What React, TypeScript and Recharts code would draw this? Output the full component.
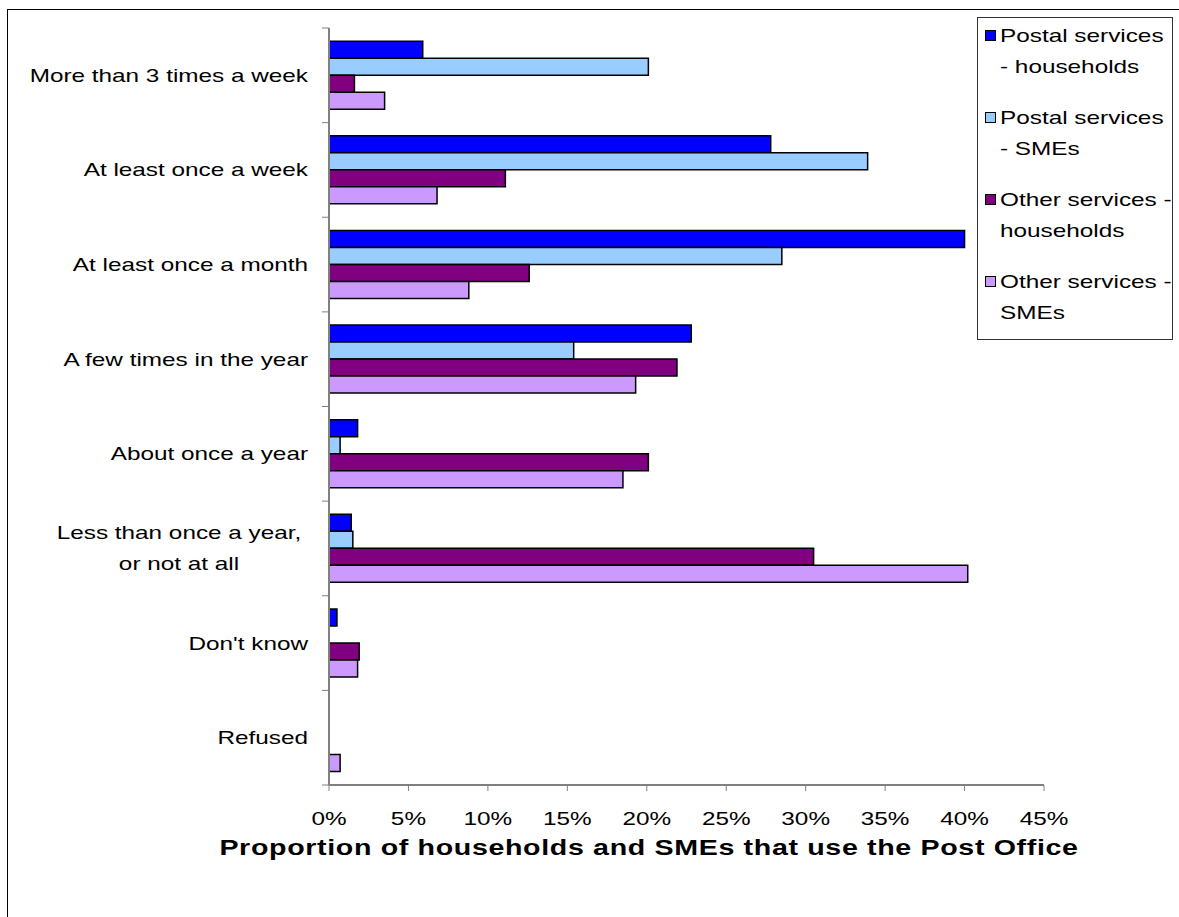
import React from 'react';
import { BarChart, Bar, XAxis, YAxis } from 'recharts';

const categories = [
  'More than 3 times a week',
  'At least once a week',
  'At least once a month',
  'A few times in the year',
  'About once a year',
  'Less than once a year,\nor not at all',
  "Don't know",
  'Refused',
];

const postalHouseholds = [5.9, 27.8, 40.0, 22.8, 1.8, 1.4, 0.5, 0];
const postalSMEs = [20.1, 33.9, 28.5, 15.4, 0.7, 1.5, 0, 0];
const otherHouseholds = [1.6, 11.1, 12.6, 21.9, 20.1, 30.5, 1.9, 0];
const otherSMEs = [3.5, 6.8, 8.8, 19.3, 18.5, 40.2, 1.8, 0.7];

const xTicks = [0, 5, 10, 15, 20, 25, 30, 35, 40, 45];

const seriesKeys = ['postalHouseholds', 'postalSMEs', 'otherHouseholds', 'otherSMEs'];
const seriesColors = ['#0000FF', '#99CCFF', '#800080', '#CC99FF'];
const legendLines = [
  ['Postal services', '- households'],
  ['Postal services', '- SMEs'],
  ['Other services -', 'households'],
  ['Other services -', 'SMEs'],
];
const axisTitle = 'Proportion of households and SMEs that use the Post Office';

const data = categories.map((name, i) => ({
  name,
  postalHouseholds: postalHouseholds[i],
  postalSMEs: postalSMEs[i],
  otherHouseholds: otherHouseholds[i],
  otherSMEs: otherSMEs[i],
}));

const W = 1179;
const H = 917;
const PLOT_LEFT = 329;
const PLOT_RIGHT = 1044;
const PLOT_TOP = 28;
const PLOT_BOTTOM = 785;
const BAND = (PLOT_BOTTOM - PLOT_TOP) / categories.length;
const SX = 1.28; // the source text is stretched horizontally
const FONT = '"Liberation Sans", Arial, sans-serif';

const YTick = (props: any) => {
  const { y, payload, index } = props;
  const lines = String(payload.value).split('\n');
  const half = BAND / 2;
  const multi = lines.length > 1;
  const lx = multi ? 179 : 308;
  return (
    <g>
      <line x1={PLOT_LEFT - 7} x2={PLOT_LEFT} y1={y - half} y2={y - half} stroke="#808080" />
      {index === categories.length - 1 && (
        <line x1={PLOT_LEFT - 7} x2={PLOT_LEFT} y1={y + half} y2={y + half} stroke="#808080" />
      )}
      <g transform={`translate(${lx},${y}) scale(${SX},1)`}>
        {lines.map((ln, i) => (
          <text
            key={i}
            x={0}
            y={(i - (lines.length - 1) / 2) * 31}
            textAnchor={multi ? 'middle' : 'end'}
            dominantBaseline="central"
            fontFamily={FONT}
            fontSize={19}
            fill="#000"
          >
            {ln}
          </text>
        ))}
      </g>
    </g>
  );
};

const XTick = (props: any) => {
  const { x, payload } = props;
  return (
    <g transform={`translate(${x},818) scale(${SX},1)`}>
      <text x={0} y={0} textAnchor="middle" dominantBaseline="central" fontFamily={FONT} fontSize={19} fill="#000">
        {`${payload.value}%`}
      </text>
    </g>
  );
};

export default function App() {
  return (
    <div
      style={{
        position: 'fixed',
        left: 0,
        top: 0,
        width: W,
        height: H,
        overflow: 'hidden',
        background: '#fff',
        fontFamily: FONT,
      }}
    >
      {/* outer frame, clipped at right and bottom like the source */}
      <div
        style={{
          position: 'absolute',
          left: 7,
          top: 9,
          width: 1300,
          height: 1000,
          border: '1px solid #000',
        }}
      />
      <div style={{ position: 'absolute', left: 0, top: 0 }}>
        <BarChart
          width={W}
          height={H}
          data={data}
          layout="vertical"
          margin={{ top: PLOT_TOP, right: W - PLOT_RIGHT, bottom: H - PLOT_BOTTOM - 40, left: 0 }}
          barCategoryGap="14%"
          barGap={0}
        >
          <XAxis
            type="number"
            domain={[0, 45]}
            ticks={xTicks}
            interval={0}
            height={40}
            tickSize={6}
            tick={<XTick />}
            tickLine={{ stroke: '#808080' }}
            axisLine={{ stroke: '#000' }}
          />
          <YAxis
            type="category"
            dataKey="name"
            width={PLOT_LEFT}
            interval={0}
            tick={<YTick />}
            tickLine={false}
            axisLine={{ stroke: '#808080', strokeWidth: 2 }}
          />
          {seriesKeys.map((k, i) => (
            <Bar
              key={k}
              dataKey={k}
              fill={seriesColors[i]}
              stroke="#000"
              strokeWidth={1.5}
              isAnimationActive={false}
            />
          ))}
        </BarChart>
      </div>

      {/* axis title */}
      <div
        style={{
          position: 'absolute',
          left: 649,
          top: 833,
          transform: `translateX(-50%) scaleX(1.3)`,
          whiteSpace: 'nowrap',
          fontWeight: 'bold',
          fontSize: 22,
          letterSpacing: 0.5,
          lineHeight: '30px',
          color: '#000',
        }}
      >
        {axisTitle}
      </div>

      {/* legend */}
      <div
        style={{
          position: 'absolute',
          left: 977,
          top: 17,
          width: 194,
          height: 321,
          border: '1px solid #333',
          background: '#fff',
        }}
      >
        {legendLines.map((lines, i) => (
          <div key={i}>
            <div
              style={{
                position: 'absolute',
                left: 7,
                top: 18 + 82 * i - 6,
                width: 9,
                height: 9,
                border: '1px solid #000',
                background: seriesColors[i],
              }}
            />
            {lines.map((ln, j) => (
              <div
                key={j}
                style={{
                  position: 'absolute',
                  left: 22,
                  top: 18 + 82 * i + 31 * j - 14,
                  height: 28,
                  lineHeight: '28px',
                  fontSize: 19,
                  whiteSpace: 'nowrap',
                  transform: `scaleX(${SX})`,
                  transformOrigin: 'left center',
                  color: '#000',
                }}
              >
                {ln}
              </div>
            ))}
          </div>
        ))}
      </div>
    </div>
  );
}
